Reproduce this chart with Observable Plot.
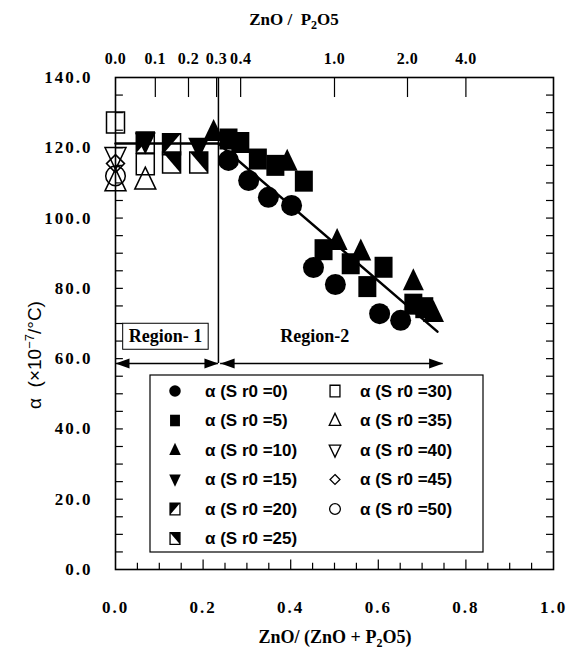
<!DOCTYPE html>
<html><head><meta charset="utf-8">
<script src="https://cdn.jsdelivr.net/npm/d3@7"></script>
<script src="https://cdn.jsdelivr.net/npm/@observablehq/plot@0.6"></script>
<style>html,body{margin:0;padding:0;background:#fff}svg{display:block}</style>
</head><body><div id="chart"></div>
<script>
// ---------- data ----------
// x = ZnO/(ZnO+P2O5), a = alpha (x10^-7 /°C)
const x_sr0_0  = [0.258, 0.304, 0.349, 0.402, 0.452, 0.502, 0.603, 0.651];
const a_sr0_0  = [116.4, 110.7, 105.9, 103.6, 85.9, 81.1, 72.8, 70.9];
const x_sr0_5  = [0.258, 0.285, 0.325, 0.365, 0.43, 0.475, 0.537, 0.575, 0.612, 0.68, 0.705];
const a_sr0_5  = [122.5, 121.5, 116.8, 115.0, 110.5, 91.0, 87.0, 80.5, 86.0, 75.5, 74.5];
const x_sr0_10 = [0.224, 0.392, 0.506, 0.56, 0.68, 0.726];
const a_sr0_10 = [124.5, 116.0, 93.5, 90.5, 82.0, 73.0];
const x_sr0_15 = [0.068, 0.19];
const a_sr0_15 = [121.8, 120.3];
const x_sr0_20 = [0.068, 0.128];
const a_sr0_20 = [121.5, 121.0];
const x_sr0_25 = [0.128, 0.19];
const a_sr0_25 = [115.8, 115.8];
const x_sr0_30 = [0.0, 0.068];
const a_sr0_30 = [127.2, 115.3];
const x_sr0_35 = [0.0, 0.068];
const a_sr0_35 = [110.3, 110.8];
const x_sr0_40 = [0.0];
const a_sr0_40 = [117.5];
const x_sr0_45 = [0.0];
const a_sr0_45 = [115.5];
const x_sr0_50 = [0.0];
const a_sr0_50 = [112.0];

// fitted lines
const fit1X = [0.0, 0.235];
const fit1A = [121.2, 121.2];
const fit2X = [0.235, 0.735];
const fit2A = [121.2, 67.7];

// regions
const boundaryX = 0.235;          // ZnO/P2O5 ≈ 0.3
const arrowLevel = 58.6;
const regionNames = ["Region- 1", "Region-2"];
const regionStart = [0.0, 0.240];
const regionEnd   = [0.235, 0.748];
const regionLabelX = [0.114, 0.455];
const regionLabelA = 66.3;

// axes
const yTicks = [0, 20, 40, 60, 80, 100, 120, 140];
const yMinor = d3.range(5, 140, 5);
const xTicks = [0, 0.2, 0.4, 0.6, 0.8, 1.0];
const xMinor = d3.range(1, 20).map(i => i * 0.05);
const topRatios = [0.0, 0.1, 0.2, 0.3, 0.4, 1.0, 2.0, 4.0];   // ZnO/P2O5
const legendLabels = ["0","5","10","15","20","25","30","35","40","45","50"];

// ---------- symbols ----------
function sym(fn){ return {draw(c){ fn(c); }}; }
function shapes(s){
  return {
    circle: sym(c=>{c.moveTo(10.5*s,0); c.arc(0,0,10.5*s,0,2*Math.PI); c.closePath();}),
    ocircle: sym(c=>{c.moveTo(9.8*s,0); c.arc(0,0,9.8*s,0,2*Math.PI); c.closePath();}),
    square: sym(c=>{c.rect(-9*s,-10.5*s,18*s,21*s);}),
    tri: sym(c=>{c.moveTo(0,-13*s);c.lineTo(10.5*s,9*s);c.lineTo(-10.5*s,9*s);c.closePath();}),
    triDown: sym(c=>{c.moveTo(0,13*s);c.lineTo(10.5*s,-9*s);c.lineTo(-10.5*s,-9*s);c.closePath();}),
    diamond: sym(c=>{c.moveTo(0,-9*s);c.lineTo(9*s,0);c.lineTo(0,9*s);c.lineTo(-9*s,0);c.closePath();}),
    halfUL: sym(c=>{c.moveTo(-9*s,-10.5*s);c.lineTo(9*s,-10.5*s);c.lineTo(-9*s,10.5*s);c.closePath();}),
    halfUR: sym(c=>{c.moveTo(-9*s,-10.5*s);c.lineTo(9*s,-10.5*s);c.lineTo(9*s,10.5*s);c.closePath();})
  };
}
const S = shapes(1);
const arrowR = sym(c=>{c.moveTo(0,0);c.lineTo(-14,-5);c.lineTo(-14,5);c.closePath();});
const arrowL = sym(c=>{c.moveTo(0,0);c.lineTo(14,-5);c.lineTo(14,5);c.closePath();});

const zip = (xs, as) => xs.map((x,i)=>({x, a: as[i]}));
const filled = (xs, as, symbol) => Plot.dot(zip(xs,as), {x:"x", y:"a", symbol, fill:"#000", stroke:"none"});
const open = (xs, as, symbol) => Plot.dot(zip(xs,as), {x:"x", y:"a", symbol, fill:"none", stroke:"#000", strokeWidth:1.5});
const half = (xs, as, symbol) => [
  Plot.dot(zip(xs,as), {x:"x", y:"a", symbol:S.square, fill:"none", stroke:"#000", strokeWidth:1.5}),
  Plot.dot(zip(xs,as), {x:"x", y:"a", symbol, fill:"#000", stroke:"none"})
];

const serif = "Liberation Serif, Times New Roman, serif";
const sans = "Liberation Sans, Arial, sans-serif";

const plot = Plot.plot({
  width: 566, height: 651,
  marginLeft: 115, marginRight: 13, marginTop: 77, marginBottom: 82,
  x: {domain: [0, 1], axis: null},
  y: {domain: [0, 140], axis: null},
  marks: [
    Plot.ruleY(yMinor, {y: d=>d, x1: 0, x2: 0.018, stroke:"#000", strokeWidth:1.2}),
    Plot.ruleY(yMinor, {y: d=>d, x1: 0.984, x2: 1, stroke:"#000", strokeWidth:1.2}),
    Plot.ruleX(xMinor, {x: d=>d, y1: 0, y2: d => (Math.round(d*100) % 20 === 0 ? 2.7 : 1.8), stroke:"#000", strokeWidth:1.2}),
    Plot.ruleX(topRatios.filter(r=>r>0), {x: r=>r/(1+r), y1: 140, y2: 134.3, stroke:"#000", strokeWidth:1.2}),
    Plot.text(yTicks, {y: d=>d, text: d=>d.toFixed(1), frameAnchor:"left", dx:-23, textAnchor:"end", fontSize:17, fontWeight:"bold", fontFamily:serif}),
    Plot.text(xTicks, {x: d=>d, text: d=>d.toFixed(1), frameAnchor:"bottom", dy:43, fontSize:17, fontWeight:"bold", fontFamily:serif}),
    Plot.text(topRatios, {x: r=>r/(1+r), text: r=>r.toFixed(1), frameAnchor:"top", dy:-25, fontSize:16, fontWeight:"bold", fontFamily:serif}),
    Plot.ruleX([boundaryX], {x: d=>d, y1: arrowLevel, y2: 140, stroke:"#000", strokeWidth:1.5}),
    Plot.ruleY([0,1], {y: arrowLevel, x1: i=>regionStart[i], x2: i=>regionEnd[i], stroke:"#000", strokeWidth:1.5}),
    Plot.dot([0,1], {x: i=>regionStart[i], y: arrowLevel, symbol: arrowL, fill:"#000", stroke:"none"}),
    Plot.dot([0,1], {x: i=>regionEnd[i], y: arrowLevel, symbol: arrowR, fill:"#000", stroke:"none"}),
    Plot.text([0,1], {x: i=>regionLabelX[i], y: regionLabelA, text: i=>regionNames[i], fontSize:18, fontWeight:"bold", fontFamily:serif}),
    Plot.line(zip(fit1X, fit1A), {x:"x", y:"a", stroke:"#000", strokeWidth:2.5}),
    Plot.line(zip(fit2X, fit2A), {x:"x", y:"a", stroke:"#000", strokeWidth:2.5}),
    open(x_sr0_30, a_sr0_30, S.square),
    open(x_sr0_35, a_sr0_35, S.tri),
    open(x_sr0_40, a_sr0_40, S.triDown),
    open(x_sr0_45, a_sr0_45, S.diamond),
    open(x_sr0_50, a_sr0_50, S.ocircle),
    ...half(x_sr0_25, a_sr0_25, S.halfUR),
    ...half(x_sr0_20, a_sr0_20, S.halfUL),
    filled(x_sr0_15, a_sr0_15, S.triDown),
    filled(x_sr0_10, a_sr0_10, S.tri),
    filled(x_sr0_5, a_sr0_5, S.square),
    filled(x_sr0_0, a_sr0_0, S.circle),
    Plot.frame({stroke:"#000", strokeWidth:1.6})
  ]
});
document.getElementById("chart").appendChild(plot);

const svg = d3.select(plot);
svg.selectAll('g[font-size="17"] text').attr("letter-spacing", "2");
svg.selectAll('g[font-size="16"] text').attr("letter-spacing", "0.5");

const regNode = svg.selectAll('g[font-size="18"] text').filter(function(){ return this.textContent === regionNames[0]; }).node();
if (regNode) {
  const b = regNode.getBBox();
  d3.select(regNode.parentNode).insert("rect", "text")
    .attr("transform", regNode.getAttribute("transform"))
    .attr("x", b.x - 6).attr("y", b.y - 3)
    .attr("width", b.width + 12).attr("height", b.height + 6)
    .attr("fill", "#fff").attr("stroke", "#000").attr("stroke-width", 1);
}

const topTitle = svg.append("text").attr("x", 294).attr("y", 25).attr("text-anchor","middle")
  .attr("font-family", serif).attr("font-weight","bold").attr("font-size", 17);
topTitle.append("tspan").text("ZnO /  P");
topTitle.append("tspan").attr("dy", 4).attr("font-size", 12).text("2");
topTitle.append("tspan").attr("dy", -4).text("O5");

const xTitle = svg.append("text").attr("x", 335).attr("y", 643).attr("text-anchor","middle")
  .attr("font-family", serif).attr("font-weight","bold").attr("font-size", 18);
xTitle.append("tspan").text("ZnO/ (ZnO + P");
xTitle.append("tspan").attr("dy", 4).attr("font-size", 12).text("2");
xTitle.append("tspan").attr("dy", -4).text("O5)");

const yTitle = svg.append("text").attr("transform","translate(41,355) rotate(-90)").attr("text-anchor","middle")
  .attr("font-family", sans).attr("font-size", 19);
yTitle.append("tspan").text("α  (×10");
yTitle.append("tspan").attr("dy", -7).attr("font-size", 13).text("−7");
yTitle.append("tspan").attr("dy", 7).text("/°C)");

const L = shapes(0.55);
const legendSym = [
  {s:L.circle, f:"#000"}, {s:L.square, f:"#000"}, {s:L.tri, f:"#000"}, {s:L.triDown, f:"#000"},
  {s:L.halfUL, half:true}, {s:L.halfUR, half:true},
  {s:L.square, f:"none"}, {s:L.tri, f:"none"}, {s:L.triDown, f:"none"}, {s:L.diamond, f:"none"}, {s:L.ocircle, f:"none"}
];
const lg = svg.append("g").attr("text-anchor", "start");
lg.append("rect").attr("x",150).attr("y",375).attr("width",333).attr("height",177)
  .attr("fill","#fff").attr("stroke","#000").attr("stroke-width",1.2);
legendLabels.forEach((lab, i) => {
  const col = i < 6 ? 0 : 1, row = i < 6 ? i : i - 6;
  const cx = col ? 335 : 175, tx = col ? 360 : 205, cy = 391 + row * 29.5;
  const ls = legendSym[i];
  if (ls.half) {
    lg.append("path").attr("transform",`translate(${cx},${cy})`).attr("d", d3.symbol(L.square)())
      .attr("fill","none").attr("stroke","#000").attr("stroke-width",1.3);
    lg.append("path").attr("transform",`translate(${cx},${cy})`).attr("d", d3.symbol(ls.s)()).attr("fill","#000");
  } else {
    lg.append("path").attr("transform",`translate(${cx},${cy})`).attr("d", d3.symbol(ls.s)())
      .attr("fill", ls.f).attr("stroke", ls.f === "none" ? "#000" : "none").attr("stroke-width",1.3);
  }
  lg.append("text").attr("x", tx).attr("y", cy).attr("dy","0.35em").attr("text-anchor","start")
    .attr("font-family", sans).attr("font-weight","bold").attr("font-size", 17).text(`α (S r0 =${lab})`);
});
</script></body></html>
